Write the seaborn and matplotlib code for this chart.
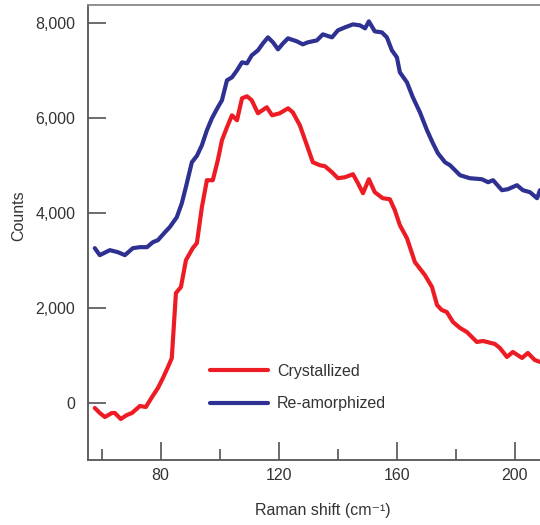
import matplotlib
matplotlib.use("Agg")
import matplotlib.pyplot as plt
import seaborn as sns
import pandas as pd
import numpy as np
from matplotlib.ticker import FixedLocator

# ---- data ----
shift_cryst = [57.7, 59.4, 61.1, 63.5, 64.5, 66.5, 68.6, 70.3, 73.0, 75.0, 77.1, 79.1,
               80.8, 82.5, 83.8, 85.2, 86.9, 88.6, 90.9, 92.3, 94.0, 95.7, 97.7, 99.4,
               100.8, 102.5, 104.2, 105.9, 107.6, 109.3, 110.9, 113.0, 116.0, 117.8,
               120.4, 123.2, 124.8, 127.2, 129.6, 131.6, 134.0, 135.7, 138.1, 140.1,
               142.5, 145.2, 146.9, 148.6, 150.6, 152.6, 155.3, 157.7, 159.4, 161.1,
               163.5, 166.2, 169.6, 172.0, 173.7, 175.3, 177.0, 179.1, 181.5, 183.8,
               187.2, 189.3, 193.3, 195.0, 197.4, 199.4, 202.5, 204.5, 206.8, 208.6]
counts_cryst = [-99, -204, -288, -204, -204, -330, -246, -204, -57, -78, 132, 321,
                531, 762, 951, 2318, 2444, 3009, 3261, 3366, 4122, 4689, 4689, 5109,
                5529, 5802, 6054, 5949, 6411, 6453, 6369, 6096, 6222, 6054,
                6096, 6201, 6117, 5844, 5424, 5067, 5004, 4983, 4857, 4731,
                4752, 4815, 4626, 4416, 4710, 4437, 4311, 4290, 4059, 3744,
                3471, 2967, 2694, 2444, 2066, 1961, 1919, 1709, 1583, 1499,
                1289, 1310, 1247, 1163, 974, 1079, 953, 1058, 911, 869]

shift_amorph = [57.7, 59.4, 62.8, 65.5, 67.9, 70.6, 73.0, 75.4, 77.4, 79.1, 81.5, 83.1,
                85.5, 87.2, 88.9, 90.6, 92.3, 94.0, 95.7, 97.4, 99.4, 100.8, 102.5,
                104.2, 105.9, 107.6, 109.3, 110.9, 113.0, 114.7, 116.4, 118.1, 119.8,
                121.5, 123.2, 126.2, 128.2, 129.9, 133.0, 135.0, 138.1, 140.1, 142.5,
                145.2, 147.6, 149.3, 150.6, 152.6, 155.0, 156.7, 158.4, 160.1, 161.1,
                163.5, 165.5, 167.9, 170.3, 172.3, 174.0, 176.4, 178.1, 181.5, 184.8,
                188.9, 191.0, 192.7, 195.7, 197.7, 200.8, 202.8, 205.2, 207.6, 208.6]
counts_amorph = [3261, 3114, 3219, 3177, 3114, 3261, 3282, 3282, 3387, 3429, 3597, 3702,
                 3912, 4206, 4626, 5067, 5200, 5424, 5739, 5991, 6222, 6369, 6789,
                 6852, 6999, 7167, 7146, 7314, 7419, 7566, 7692, 7587, 7440,
                 7566, 7671, 7608, 7545, 7587, 7629, 7755, 7692, 7839, 7902,
                 7965, 7944, 7881, 8028, 7818, 7797, 7692, 7419, 7272, 6957,
                 6747, 6432, 6117, 5739, 5466, 5256, 5067, 5004, 4794, 4731,
                 4710, 4647, 4689, 4479, 4500, 4584, 4479, 4437, 4311, 4479]

series_names = ["Crystallized", "Re-amorphized"]
series_colors = ["#ED1C24", "#2E3192"]
x_major = [80, 120, 160, 200]
x_minor = [60, 100, 140, 180]
y_major = [0, 2000, 4000, 6000, 8000]
y_labels = ["0", "2,000", "4,000", "6,000", "8,000"]

df = pd.concat([
    pd.DataFrame({"shift": shift_cryst, "counts": counts_cryst, "series": series_names[0]}),
    pd.DataFrame({"shift": shift_amorph, "counts": counts_amorph, "series": series_names[1]}),
], ignore_index=True)

sns.set_style("white")
plt.rcParams['font.family'] = ['Liberation Sans Narrow', 'Liberation Sans', 'DejaVu Sans']

TXT = "#333333"
FS = 11.5

fig = plt.figure(figsize=(5.40, 5.25), dpi=100)
ax = fig.add_axes([88/540, 65/525, 452/540, 455/525])

sns.lineplot(data=df, x="shift", y="counts", hue="series", hue_order=series_names,
             palette=series_colors, linewidth=3.0, ax=ax, sort=False, estimator=None)

ax.set_xlim(55.4, 208.6)
ax.set_ylim(-1192, 8372)

ax.xaxis.set_major_locator(FixedLocator(x_major))
ax.xaxis.set_minor_locator(FixedLocator(x_minor))
ax.set_yticks(y_major)
ax.set_yticklabels(y_labels)

ax.tick_params(axis="x", which="major", direction="in", length=13, width=1.1,
               color="#444444", labelsize=FS, labelcolor=TXT, pad=5.5, bottom=True)
ax.tick_params(axis="x", which="minor", direction="in", length=8, width=1.1,
               color="#444444", bottom=True)
ax.tick_params(axis="y", which="major", direction="in", length=13, width=1.1,
               color="#444444", labelsize=FS, labelcolor=TXT, pad=9, left=True)

for s in ["left", "bottom"]:
    ax.spines[s].set_color("#555555")
    ax.spines[s].set_linewidth(1.3)
ax.spines["top"].set_color("#888888")
ax.spines["top"].set_linewidth(1.3)
ax.spines["right"].set_visible(False)

ax.set_xlabel("Raman shift (cm\u207b\u00b9)", fontsize=FS, color=TXT, va="center")
ax.xaxis.set_label_coords((323 - 88) / 452, (460 - 510) / 455)
ax.set_ylabel("Counts", fontsize=FS, color=TXT, va="center")
ax.yaxis.set_label_coords((19 - 88) / 452, (460 - 216) / 455)

leg = ax.legend(loc="center left", bbox_to_anchor=((210 - 88) / 452, (460 - 387.5) / 455),
                frameon=False, fontsize=FS, handlelength=3.6, handletextpad=0.6,
                borderpad=0, borderaxespad=0, labelspacing=1.1, title=None)
for t in leg.get_texts():
    t.set_color(TXT)
for l in leg.get_lines():
    l.set_linewidth(3.0)

fig.savefig("out.png", dpi=100)
